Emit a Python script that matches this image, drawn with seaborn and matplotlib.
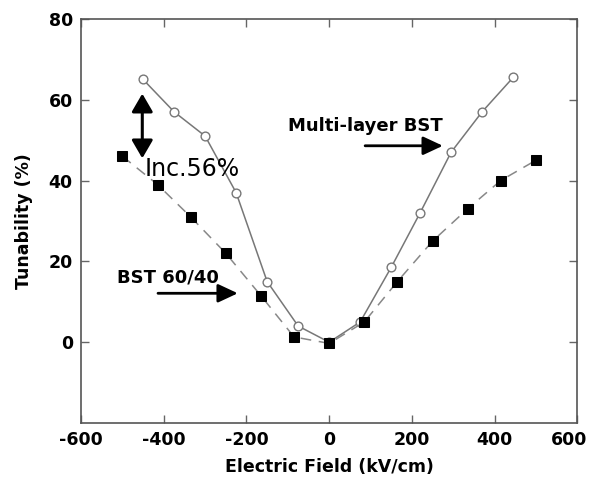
import matplotlib
matplotlib.use("Agg")
import matplotlib.pyplot as plt
from matplotlib.transforms import ScaledTranslation
import seaborn as sns
import pandas as pd

# Multi-layer BST (open circles, solid line)
field_multi = [-450, -375, -300, -225, -150, -75, 0, 75, 150, 220, 295, 370, 445]
tun_multi = [65, 57, 51, 37, 15, 4, 0, 5, 18.5, 32, 47, 57, 65.5]

# BST 60/40 single layer (filled squares, dashed line)
field_bst = [-500, -415, -335, -250, -165, -85, 0, 85, 165, 250, 335, 415, 500]
tun_bst = [46, 39, 31, 22, 11.5, 1.3, -0.3, 5, 15, 25, 33, 40, 45]

x_ticks = [-600, -400, -200, 0, 200, 400, 600]
y_ticks = [0, 20, 40, 60, 80]

sns.set_style("ticks")
plt.rcParams["font.family"] = ["DejaVu Sans"]
plt.rcParams["text.color"] = "black"

fig = plt.figure(figsize=(5.92, 4.84), dpi=100)
ax = fig.add_axes([0.137, 0.126, 0.838, 0.835])

df_multi = pd.DataFrame({"field": field_multi, "tun": tun_multi})
df_bst = pd.DataFrame({"field": field_bst, "tun": tun_bst})

sns.lineplot(data=df_bst, x="field", y="tun", ax=ax, color="#888888",
             linewidth=1.1, linestyle=(0, (7, 5)), marker="s", markersize=7.5,
             markerfacecolor="black", markeredgecolor="black", zorder=3)
sns.lineplot(data=df_multi, x="field", y="tun", ax=ax, color="#777777",
             linewidth=1.1, marker="o", markersize=6.3,
             markerfacecolor="white", markeredgecolor="#777777",
             markeredgewidth=1.0, zorder=2)

ax.set_xlim(-600, 600)
ax.set_ylim(-20, 80)
ax.set_xticks(x_ticks)
ax.set_yticks(y_ticks)
ax.set_xticklabels([str(v) for v in x_ticks], fontsize=12.5, fontweight="bold",
                   color="black")
ax.set_yticklabels([str(v) for v in y_ticks], fontsize=12.5, fontweight="bold",
                   color="black")
ax.tick_params(direction="in", length=6, width=1, color="#666666",
               top=True, right=True, pad=6)
# nudge the last x label inward so it stays inside the figure
last = ax.get_xticklabels()[-1]
last.set_transform(last.get_transform() + ScaledTranslation(-6 / 72, 0, fig.dpi_scale_trans))
for s in ax.spines.values():
    s.set_color("#555555")
    s.set_linewidth(1.2)

ax.set_xlabel("Electric Field (kV/cm)", fontsize=12.5, fontweight="bold",
              labelpad=6, color="black")
ax.set_ylabel("Tunability (%)", fontsize=12.5, fontweight="bold",
              labelpad=11, color="black")

# double arrow marking the tunability increase
ax.annotate("", xy=(-452, 61.5), xytext=(-452, 45.5),
            arrowprops=dict(arrowstyle="<|-|>,head_length=0.55,head_width=0.32",
                            mutation_scale=20, color="black", lw=2.2,
                            shrinkA=0, shrinkB=0))
ax.text(-447, 41.2, "Inc.56%", fontsize=17, ha="left", va="baseline")

ax.text(-99, 52.3, "Multi-layer BST", fontsize=13, fontweight="bold",
        ha="left", va="baseline")
ax.annotate("", xy=(275, 48.6), xytext=(87, 48.6),
            arrowprops=dict(arrowstyle="-|>,head_length=0.6,head_width=0.28",
                            mutation_scale=20, color="black", lw=2,
                            shrinkA=0, shrinkB=0))

ax.text(-513, 14.8, "BST 60/40", fontsize=13, fontweight="bold",
        ha="left", va="baseline")
ax.annotate("", xy=(-221, 12.1), xytext=(-414, 12.1),
            arrowprops=dict(arrowstyle="-|>,head_length=0.6,head_width=0.28",
                            mutation_scale=20, color="black", lw=2,
                            shrinkA=0, shrinkB=0))

fig.savefig("out.png", dpi=100)
